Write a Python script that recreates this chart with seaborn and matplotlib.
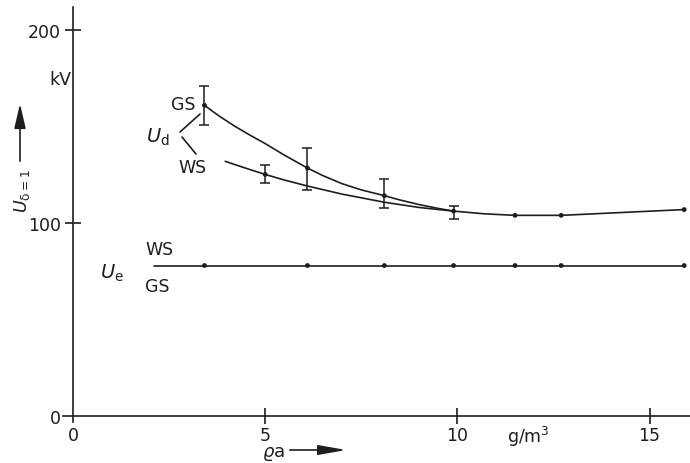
import matplotlib
matplotlib.use("Agg")
import matplotlib.pyplot as plt
import seaborn as sns
import pandas as pd

# ---- data ----
gs_x = [3.42, 3.8, 4.2, 4.6, 5.0, 5.5, 6.1, 6.5, 7.0, 7.5, 8.1, 8.5, 9.0, 9.5, 9.9, 10.7, 11.5, 12.7, 14.3, 15.9]
gs_y = [161, 155.5, 150.3, 145.6, 141.2, 135.2, 128.5, 124.6, 120.4, 117.2, 114.2, 112, 109.6, 107.6, 106.2, 104.8, 104, 104, 105.5, 107]
gs_mark_x = [3.42, 6.1, 8.1, 9.9, 11.5, 12.7, 15.9]
gs_mark_y = [161, 128.5, 114.2, 106.2, 104, 104, 107]

ws_x = [3.96, 4.5, 5.0, 5.5, 6.1, 7.0, 8.1, 9.0, 9.9]
ws_y = [132, 128.4, 125.2, 122.3, 119.2, 115, 110.8, 108.1, 106.2]
ws_mark_x = [5.0]
ws_mark_y = [125.2]

err_x = [3.42, 5.0, 6.1, 8.1, 9.9]
err_lo = [151, 121, 117, 108, 102]
err_hi = [171, 130, 139, 123, 109]

ue_x = [2.1, 3.42, 6.1, 8.1, 9.9, 11.5, 12.7, 15.9]
ue_y = [78, 78, 78, 78, 78, 78, 78, 78]
ue_mark_x = [3.42, 6.1, 8.1, 9.9, 11.5, 12.7, 15.9]
ue_mark_y = [78, 78, 78, 78, 78, 78, 78]

y_ticks = [0, 100, 200]
x_ticks = [0, 5, 10, 15]

sns.set_style("white")
plt.rcParams['font.family'] = ['DejaVu Sans']
ink = '#1e1e1e'

fig = plt.figure(figsize=(6.9, 4.64), dpi=100)
ax = fig.add_axes([0.0919, 0.0888, 0.908, 0.894])

lw = 1.2
sns.lineplot(x=gs_x, y=gs_y, ax=ax, color=ink, lw=lw, sort=False)
sns.lineplot(x=ws_x, y=ws_y, ax=ax, color=ink, lw=lw, sort=False)
sns.lineplot(x=ue_x, y=ue_y, ax=ax, color=ink, lw=lw, sort=False)
for mx, my in [(gs_mark_x, gs_mark_y), (ws_mark_x, ws_mark_y), (ue_mark_x, ue_mark_y)]:
    sns.scatterplot(x=mx, y=my, ax=ax, color=ink, s=12, edgecolor='none', zorder=5)

ax.vlines(err_x, err_lo, err_hi, color=ink, lw=1.1)
cap = 0.13
ax.hlines(err_lo, [x - cap for x in err_x], [x + cap for x in err_x], color=ink, lw=1.1)
ax.hlines(err_hi, [x - cap for x in err_x], [x + cap for x in err_x], color=ink, lw=1.1)

ax.set_xlim(-0.25, 16.05)
ax.set_ylim(-3, 212)
for s in ['top', 'right']:
    ax.spines[s].set_visible(False)
ax.spines['left'].set_position(('data', 0))
ax.spines['bottom'].set_position(('data', 0))
ax.spines['left'].set_bounds(-3, 212)
ax.spines['bottom'].set_bounds(-0.25, 16.05)
for s in ['left', 'bottom']:
    ax.spines[s].set_color(ink)
    ax.spines[s].set_linewidth(1.2)

fs = 12.5
ax.set_yticks(y_ticks)
ax.set_yticklabels([str(v) for v in y_ticks], fontsize=fs, color=ink)
ax.set_xticks(x_ticks)
ax.set_xticklabels([str(v) for v in x_ticks], fontsize=fs, color=ink)
ax.tick_params(axis='both', direction='inout', length=11, width=1.2, color=ink,
               left=True, bottom=True)
ax.tick_params(axis='y', pad=3)
ax.tick_params(axis='x', pad=2)
ax.yaxis.get_major_ticks()[0].tick1line.set_visible(False)
ax.xaxis.get_major_ticks()[0].tick1line.set_visible(False)

# text labels in pixel -> figure coords
W, H = 690, 464
def ft(px, py, s, **kw):
    kw.setdefault('fontsize', fs)
    kw.setdefault('color', ink)
    fig.text(px / W, 1 - py / H, s, ha='center', va='center', **kw)

ft(60, 80, 'kV')
ft(528, 437, 'g/m$^3$')
ft(273, 454, r'$\varrho\mathrm{a}$', fontsize=13)
ft(22, 191, r'$U_{\mathrm{\delta=1}}$', rotation=90, fontsize=12.5)
ft(183, 105, 'GS')
ft(158, 137, r'$U_{\mathrm{d}}$', fontsize=14)
ft(192, 168, 'WS')
ft(159, 250, 'WS')
ft(112, 273, r'$U_{\mathrm{e}}$', fontsize=14)
ft(157, 287, 'GS')

def fl(p1, p2, **kw):
    fig.add_artist(plt.Line2D([p1[0] / W, p2[0] / W], [1 - p1[1] / H, 1 - p2[1] / H],
                              color=ink, lw=1.2, **kw))
fl((180, 133), (200, 115))
fl((182, 138), (196, 155))

# arrows
fig.add_artist(matplotlib.patches.FancyArrowPatch((20 / W, 1 - 165 / H), (20 / W, 1 - 102 / H),
               transform=fig.transFigure, arrowstyle='-|>,head_length=15,head_width=3.5',
               color=ink, lw=1.2, mutation_scale=1))
fig.add_artist(matplotlib.patches.FancyArrowPatch((287 / W, 1 - 451 / H), (349 / W, 1 - 451 / H),
               transform=fig.transFigure, arrowstyle='-|>,head_length=17,head_width=3',
               color=ink, lw=1.2, mutation_scale=1))

fig.savefig('out.png', dpi=100, facecolor='white')
